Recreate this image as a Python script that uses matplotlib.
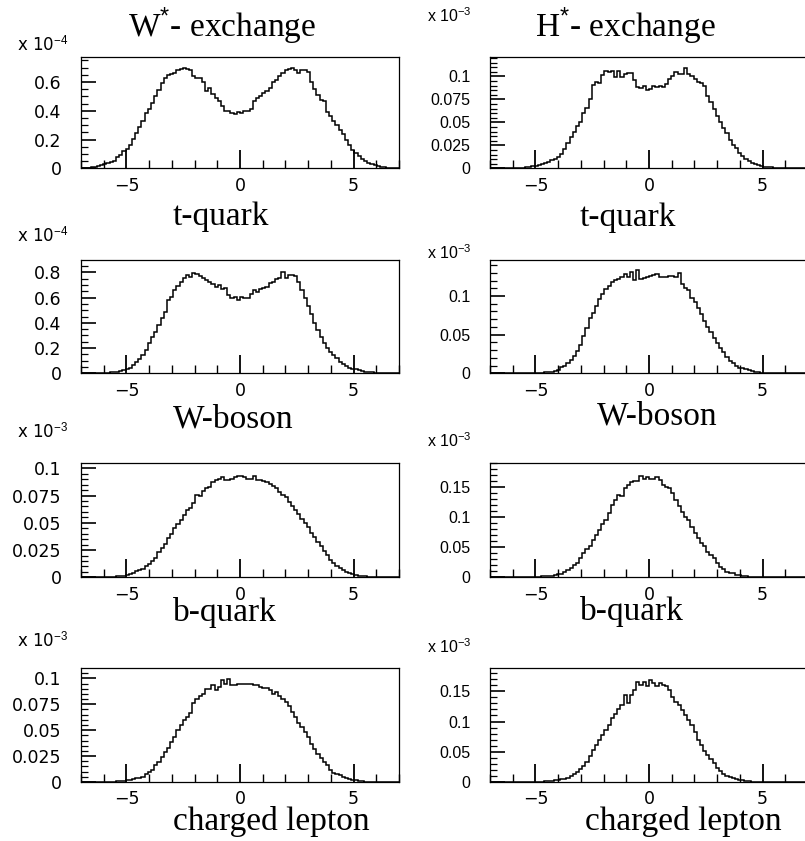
import numpy as np
import matplotlib
matplotlib.use('Agg')
import matplotlib.pyplot as plt
from matplotlib.ticker import MultipleLocator

plt.rcParams['font.family'] = ['Liberation Sans', 'DejaVu Sans']
plt.rcParams['mathtext.fontset'] = 'custom'
plt.rcParams['mathtext.rm'] = 'Liberation Sans'
plt.rcParams['mathtext.it'] = 'Liberation Sans:italic'
plt.rcParams['mathtext.bf'] = 'Liberation Sans:bold'

# rapidity histograms: 100 bins from -7 to 7
bin_lo, bin_hi, n_bins = -7.0, 7.0, 100

# W* exchange, t-quark (x 1e-4)
w_tquark = [0.000, 0.002, 0.005, 0.008, 0.012, 0.016, 0.022, 0.030, 0.040, 0.044,
            0.050, 0.080, 0.095, 0.120, 0.137, 0.160, 0.205, 0.245, 0.290, 0.330,
            0.385, 0.415, 0.455, 0.505, 0.545, 0.595, 0.625, 0.645, 0.655, 0.660,
            0.685, 0.690, 0.695, 0.690, 0.680, 0.640, 0.630, 0.625, 0.600, 0.540,
            0.560, 0.515, 0.490, 0.470, 0.430, 0.400, 0.395, 0.385, 0.380, 0.390,
            0.385, 0.395, 0.400, 0.410, 0.470, 0.485, 0.500, 0.520, 0.540, 0.560,
            0.600, 0.615, 0.640, 0.660, 0.680, 0.690, 0.695, 0.685, 0.660, 0.680,
            0.685, 0.670, 0.600, 0.550, 0.510, 0.475, 0.465, 0.390, 0.365, 0.330,
            0.300, 0.265, 0.235, 0.195, 0.165, 0.130, 0.105, 0.085, 0.065, 0.050,
            0.040, 0.030, 0.022, 0.015, 0.010, 0.007, 0.004, 0.002, 0.001, 0.000]

# H* exchange, t-quark (x 1e-3)
h_tquark = [0, 0, 0, 0, 0, 0, 0, 0, 0.0003, 0.0005,
            0.0008, 0.001, 0.0015, 0.002, 0.0025, 0.0035, 0.0047, 0.0058, 0.0072, 0.0085,
            0.0100, 0.0126, 0.0155, 0.0206, 0.027, 0.0336, 0.040, 0.046, 0.0505, 0.060,
            0.066, 0.075, 0.091, 0.094, 0.093, 0.101, 0.106, 0.105, 0.106, 0.099,
            0.106, 0.099, 0.103, 0.104, 0.104, 0.096, 0.088, 0.087, 0.089, 0.085,
            0.086, 0.090, 0.088, 0.090, 0.088, 0.092, 0.097, 0.100, 0.105, 0.102,
            0.103, 0.109, 0.102, 0.100, 0.097, 0.094, 0.093, 0.090, 0.079, 0.072,
            0.065, 0.057, 0.050, 0.044, 0.038, 0.031, 0.025, 0.022, 0.017, 0.013,
            0.010, 0.0075, 0.006, 0.0045, 0.0036, 0.0025, 0.0018, 0.0013, 0.001, 0.0007,
            0.0005, 0.0003, 0, 0, 0, 0, 0, 0, 0, 0]

# W* exchange, W-boson (x 1e-4)
w_wboson = [0, 0, 0, 0, 0, 0, 0.002, 0.004, 0.006, 0.008,
            0.010, 0.012, 0.020, 0.026, 0.035, 0.045, 0.066, 0.092, 0.110, 0.145,
            0.185, 0.243, 0.290, 0.330, 0.383, 0.436, 0.488, 0.580, 0.607, 0.660,
            0.690, 0.726, 0.752, 0.779, 0.766, 0.797, 0.787, 0.771, 0.752, 0.739,
            0.726, 0.708, 0.686, 0.700, 0.665, 0.673, 0.620, 0.600, 0.607, 0.580,
            0.607, 0.594, 0.600, 0.628, 0.660, 0.647, 0.665, 0.680, 0.686, 0.713,
            0.726, 0.745, 0.752, 0.805, 0.752, 0.779, 0.779, 0.775, 0.726, 0.660,
            0.600, 0.530, 0.470, 0.400, 0.343, 0.290, 0.243, 0.200, 0.172, 0.145,
            0.119, 0.092, 0.074, 0.058, 0.045, 0.038, 0.032, 0.025, 0.018, 0.014,
            0.010, 0.008, 0.005, 0.003, 0.002, 0.001, 0, 0, 0, 0]

# H* exchange, W-boson (x 1e-3)
h_wboson = [0, 0, 0, 0, 0, 0, 0, 0, 0, 0,
            0, 0, 0, 0.0003, 0.0007, 0.001, 0.001, 0.0012, 0.0018, 0.002,
            0.003, 0.004, 0.0086, 0.010, 0.013, 0.017, 0.022, 0.029, 0.036, 0.048,
            0.058, 0.071, 0.078, 0.087, 0.096, 0.103, 0.109, 0.113, 0.118, 0.121,
            0.122, 0.125, 0.128, 0.125, 0.131, 0.121, 0.134, 0.122, 0.123, 0.124,
            0.126, 0.127, 0.129, 0.125, 0.125, 0.125, 0.126, 0.126, 0.124, 0.130,
            0.116, 0.111, 0.108, 0.098, 0.092, 0.084, 0.077, 0.068, 0.060, 0.053,
            0.046, 0.039, 0.033, 0.027, 0.021, 0.016, 0.013, 0.0095, 0.0075, 0.0065,
            0.005, 0.004, 0.003, 0.002, 0.0015, 0.001, 0.0008, 0.0005, 0.0003, 0,
            0, 0, 0, 0, 0, 0, 0, 0, 0, 0]

# W* exchange, b-quark (x 1e-3)
w_bquark = [0, 0, 0, 0, 0, 0, 0, 0, 0, 0.0004,
            0.0006, 0.0008, 0.0012, 0.0016, 0.002, 0.003, 0.0037, 0.0055, 0.0065, 0.008,
            0.0104, 0.012, 0.0145, 0.0174, 0.0235, 0.0266, 0.031, 0.0358, 0.040, 0.045,
            0.049, 0.053, 0.057, 0.062, 0.064, 0.068, 0.0755, 0.0746, 0.0795, 0.0817,
            0.0832, 0.0878, 0.0893, 0.090, 0.0924, 0.0893, 0.0895, 0.090, 0.0924, 0.093,
            0.093, 0.092, 0.0905, 0.0903, 0.093, 0.0893, 0.0893, 0.088, 0.087, 0.0853,
            0.0838, 0.0817, 0.0786, 0.0755, 0.0734, 0.0694, 0.0654, 0.0618, 0.0581, 0.0532,
            0.0495, 0.0459, 0.041, 0.0373, 0.0327, 0.0287, 0.0245, 0.0205, 0.0159, 0.0135,
            0.0104, 0.0083, 0.0065, 0.005, 0.0037, 0.0028, 0.002, 0.0015, 0.0012, 0.0009,
            0.0006, 0.0004, 0.0002, 0, 0, 0, 0, 0, 0, 0]

# H* exchange, b-quark (x 1e-3)
h_bquark = [0, 0, 0, 0, 0, 0, 0, 0, 0, 0,
            0, 0, 0, 0.0005, 0.001, 0.001, 0.0015, 0.002, 0.0025, 0.003,
            0.0035, 0.0055, 0.006, 0.0094, 0.012, 0.015, 0.0205, 0.0244, 0.0317, 0.040,
            0.048, 0.052, 0.062, 0.0705, 0.079, 0.089, 0.0955, 0.108, 0.120, 0.129,
            0.137, 0.1355, 0.149, 0.154, 0.158, 0.161, 0.160, 0.169, 0.163, 0.1667,
            0.163, 0.164, 0.1667, 0.162, 0.154, 0.151, 0.148, 0.140, 0.129, 0.119,
            0.109, 0.100, 0.0955, 0.0845, 0.0745, 0.065, 0.058, 0.052, 0.0428, 0.037,
            0.0317, 0.0244, 0.0178, 0.0133, 0.0094, 0.0075, 0.0067, 0.0045, 0.0039, 0.0025,
            0.002, 0.0011, 0.0008, 0.0005, 0.0003, 0, 0, 0, 0, 0,
            0, 0, 0, 0, 0, 0, 0, 0, 0, 0]

# W* exchange, charged lepton (x 1e-3)
w_lepton = [0, 0, 0, 0, 0, 0, 0, 0, 0, 0,
            0.0004, 0.0006, 0.0008, 0.0012, 0.0016, 0.002, 0.0028, 0.0035, 0.0042, 0.0052,
            0.0074, 0.0097, 0.012, 0.016, 0.019, 0.024, 0.029, 0.033, 0.0387, 0.0435,
            0.0506, 0.0548, 0.0597, 0.063, 0.0668, 0.0765, 0.080, 0.083, 0.0848, 0.0894,
            0.0894, 0.0935, 0.0887, 0.092, 0.098, 0.0945, 0.099, 0.0935, 0.0935, 0.095,
            0.095, 0.095, 0.095, 0.0945, 0.094, 0.0935, 0.092, 0.091, 0.0903, 0.0887,
            0.0848, 0.087, 0.083, 0.0797, 0.0774, 0.0732, 0.0677, 0.063, 0.057, 0.0532,
            0.0484, 0.0435, 0.037, 0.0323, 0.0274, 0.0235, 0.019, 0.016, 0.012, 0.0087,
            0.0075, 0.0065, 0.005, 0.0042, 0.003, 0.0023, 0.0015, 0.001, 0.0007, 0.0004,
            0.0002, 0, 0, 0, 0, 0, 0, 0, 0, 0]

# H* exchange, charged lepton (x 1e-3)
h_lepton = [0, 0, 0, 0, 0, 0, 0, 0, 0, 0,
            0, 0, 0, 0, 0, 0, 0.0005, 0.001, 0.0015, 0.002,
            0.0027, 0.0035, 0.0045, 0.0055, 0.007, 0.0093, 0.013, 0.017, 0.022, 0.027,
            0.033, 0.043, 0.053, 0.0615, 0.070, 0.078, 0.086, 0.0945, 0.106, 0.113,
            0.121, 0.128, 0.144, 0.131, 0.144, 0.152, 0.166, 0.160, 0.166, 0.159,
            0.169, 0.163, 0.159, 0.164, 0.160, 0.158, 0.152, 0.141, 0.133, 0.127,
            0.119, 0.111, 0.103, 0.0945, 0.0835, 0.070, 0.0615, 0.052, 0.045, 0.038,
            0.031, 0.023, 0.0176, 0.0137, 0.0104, 0.0082, 0.0065, 0.005, 0.004, 0.0027,
            0.002, 0.001, 0.0007, 0.0004, 0, 0, 0, 0, 0, 0,
            0, 0, 0, 0, 0, 0, 0, 0, 0, 0]

col_titles = ['W$^{*}$- exchange', 'H$^{*}$- exchange']
row_labels = ['t-quark', 'W-boson', 'b-quark', 'charged lepton']
exponents = [['-4', '-3'], ['-4', '-3'], ['-3', '-3'], ['-3', '-3']]
yticks = [[[0, 0.2, 0.4, 0.6], [0, 0.025, 0.05, 0.075, 0.1]],
          [[0, 0.2, 0.4, 0.6, 0.8], [0, 0.05, 0.1]],
          [[0, 0.025, 0.05, 0.075, 0.1], [0, 0.05, 0.1, 0.15]],
          [[0, 0.025, 0.05, 0.075, 0.1], [0, 0.05, 0.1, 0.15]]]
ymax = [[0.773, 0.121], [0.898, 0.1466], [0.1046, 0.19], [0.1097, 0.188]]
yminor = [[0.05, 0.005], [0.05, 0.01], [0.005, 0.01], [0.005, 0.01]]
hists = [[w_tquark, h_tquark], [w_wboson, h_wboson],
         [w_bquark, h_bquark], [w_lepton, h_lepton]]

W, H = 805, 841
fig = plt.figure(figsize=(W / 100, H / 100), dpi=100)


def px(x, y):
    return x / W, 1 - y / H


# layout in pixels
col_x = [(81, 399), (490, 808)]
row_y = [(57, 168.3), (260, 373.3), (463.3, 577.3), (668.3, 782)]
label_pos = [[(173, 225), (580, 226)], [(173, 428), (597, 425)],
             [(173, 621), (580, 620)], [(173, 830), (585, 830)]]
mult_pos = [[(17, 50), (427, 22)], [(17, 241), (427, 259)],
            [(17, 437), (427, 447)], [(17, 646), (427, 653)]]
# left column labels are drawn wider in the original
ylab_font = [('DejaVu Sans', 12.5), ('Liberation Sans', 11.5)]
mult_font = [('DejaVu Sans', 12), ('Liberation Sans', 11.5)]

edges = np.linspace(bin_lo, bin_hi, n_bins + 1)

for r in range(4):
    for c in range(2):
        x0, x1 = col_x[c]
        yt, yb = row_y[r]
        ax = fig.add_axes([x0 / W, 1 - yb / H, (x1 - x0) / W, (yb - yt) / H])
        ax.stairs(hists[r][c], edges, color='black', lw=1.1)
        ax.set_xlim(bin_lo, bin_hi)
        ax.set_ylim(0, ymax[r][c])
        ax.set_xticks([-5, 0, 5])
        ax.xaxis.set_minor_locator(MultipleLocator(1))
        ticks = yticks[r][c]
        ax.set_yticks(ticks, ['{:g}'.format(t) for t in ticks])
        ax.yaxis.set_minor_locator(MultipleLocator(yminor[r][c]))
        ax.tick_params(axis='x', which='major', direction='in', length=13, width=1.3,
                       top=False, pad=6, labelsize=12.5, labelfontfamily='DejaVu Sans')
        ax.tick_params(axis='x', which='minor', direction='in', length=6, width=1.0, top=False)
        ax.tick_params(axis='y', which='major', direction='in', length=11, width=1.2,
                       right=False, pad=14, labelsize=ylab_font[c][1],
                       labelfontfamily=ylab_font[c][0])
        ax.tick_params(axis='y', which='minor', direction='in', length=5, width=0.9, right=False)
        for s in ax.spines.values():
            s.set_linewidth(0.9)

        lx, ly = label_pos[r][c]
        fx, fy = px(lx, ly)
        fig.text(fx, fy, row_labels[r], family='Liberation Serif', fontsize=24,
                 ha='left', va='baseline')

        mx, my = mult_pos[r][c]
        fx, fy = px(mx, my)
        fig.text(fx, fy, 'x 10$^{' + exponents[r][c] + '}$', family=mult_font[c][0],
                 fontsize=mult_font[c][1], ha='left', va='baseline')

for c, (tx, ty) in enumerate([(128, 37), (535, 37)]):
    fx, fy = px(tx, ty)
    fig.text(fx, fy, col_titles[c], family='Liberation Serif', fontsize=24,
             ha='left', va='baseline')

fig.savefig('out.png', dpi=100)
